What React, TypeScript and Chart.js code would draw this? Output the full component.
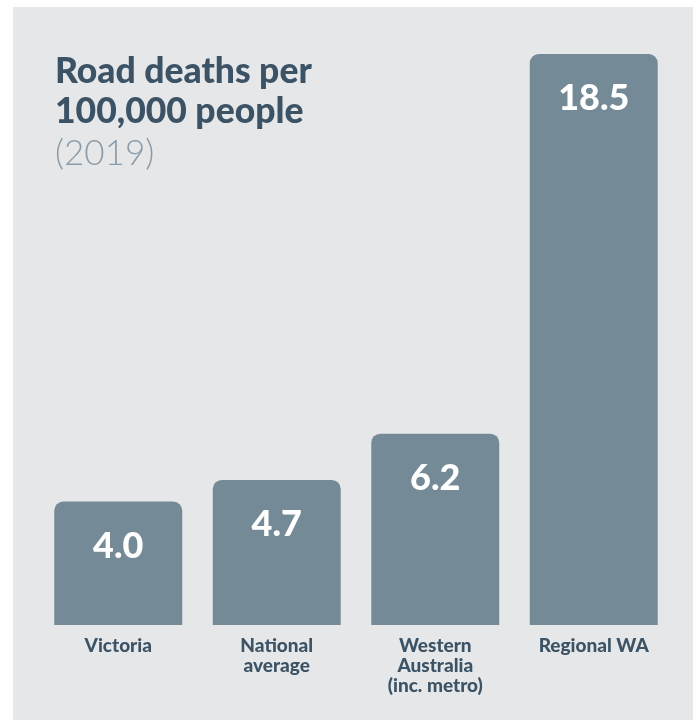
import React, { useEffect, useRef } from "react";
import { Chart, registerables } from "chart.js";

Chart.register(...registerables);

const categories: string[][] = [
  ["Victoria"],
  ["National", "average"],
  ["Western", "Australia", "(inc. metro)"],
  ["Regional WA"],
];
const deathsPer100k: number[] = [4.0, 4.7, 6.2, 18.5];
const valueLabels: string[] = ["4.0", "4.7", "6.2", "18.5"];
const titleLines: string[] = ["Road deaths per", "100,000 people"];
const subtitle = "(2019)";

const FONT = "Lato, 'Open Sans', sans-serif";
const PANEL = "#e6e7e9";
const BAR = "#748a96";
const DARK = "#3c5366";
const LIGHT = "#8a9ca8";

export default function App() {
  const ref = useRef<HTMLCanvasElement | null>(null);

  useEffect(() => {
    document.body.style.margin = "0";
    const canvas = ref.current;
    if (!canvas) return;

    const panelPlugin = {
      id: "panel",
      beforeDraw(chart: any) {
        const ctx = chart.ctx;
        ctx.save();
        ctx.fillStyle = "#ffffff";
        ctx.fillRect(0, 0, chart.width, chart.height);
        ctx.fillStyle = PANEL;
        ctx.fillRect(13, 7, 680, chart.height - 7);
        ctx.restore();
      },
      afterDraw(chart: any) {
        const ctx = chart.ctx;
        ctx.save();
        ctx.textAlign = "left";
        ctx.textBaseline = "alphabetic";
        ctx.fillStyle = DARK;
        ctx.font = `900 35.5px ${FONT}`;
        ctx.fillText(titleLines[0], 55, 83);
        ctx.fillText(titleLines[1], 55, 123);
        ctx.fillStyle = LIGHT;
        ctx.font = `300 35px ${FONT}`;
        ctx.fillText(subtitle, 55, 165);

        const meta = chart.getDatasetMeta(0);
        ctx.fillStyle = "#ffffff";
        ctx.textAlign = "center";
        ctx.font = `900 36px ${FONT}`;
        meta.data.forEach((bar: any, i: number) => {
          ctx.fillText(valueLabels[i], bar.x, bar.y + 56);
        });
        ctx.restore();
      },
    };

    const chart = new Chart(canvas, {
      type: "bar",
      data: {
        labels: categories,
        datasets: [
          {
            data: deathsPer100k,
            backgroundColor: BAR,
            borderRadius: { topLeft: 9, topRight: 9, bottomLeft: 0, bottomRight: 0 },
            borderSkipped: false,
            barPercentage: 0.9,
            categoryPercentage: 0.897,
          },
        ],
      },
      options: {
        responsive: false,
        animation: false,
        devicePixelRatio: 1,
        layout: { padding: { left: 39, right: 24, top: 54, bottom: 21 } },
        plugins: {
          legend: { display: false },
          tooltip: { enabled: false },
          title: { display: false },
        },
        scales: {
          y: { display: false, min: 0, max: 18.5 },
          x: {
            grid: { display: false },
            border: { display: false },
            ticks: {
              color: DARK,
              font: { family: FONT, weight: "900", size: 19, lineHeight: "20px" },
              padding: 3,
              maxRotation: 0,
              autoSkip: false,
            },
          },
        },
      },
      plugins: [panelPlugin],
    });

    return () => chart.destroy();
  }, []);

  return <canvas ref={ref} width={697} height={720} style={{ display: "block" }} />;
}
